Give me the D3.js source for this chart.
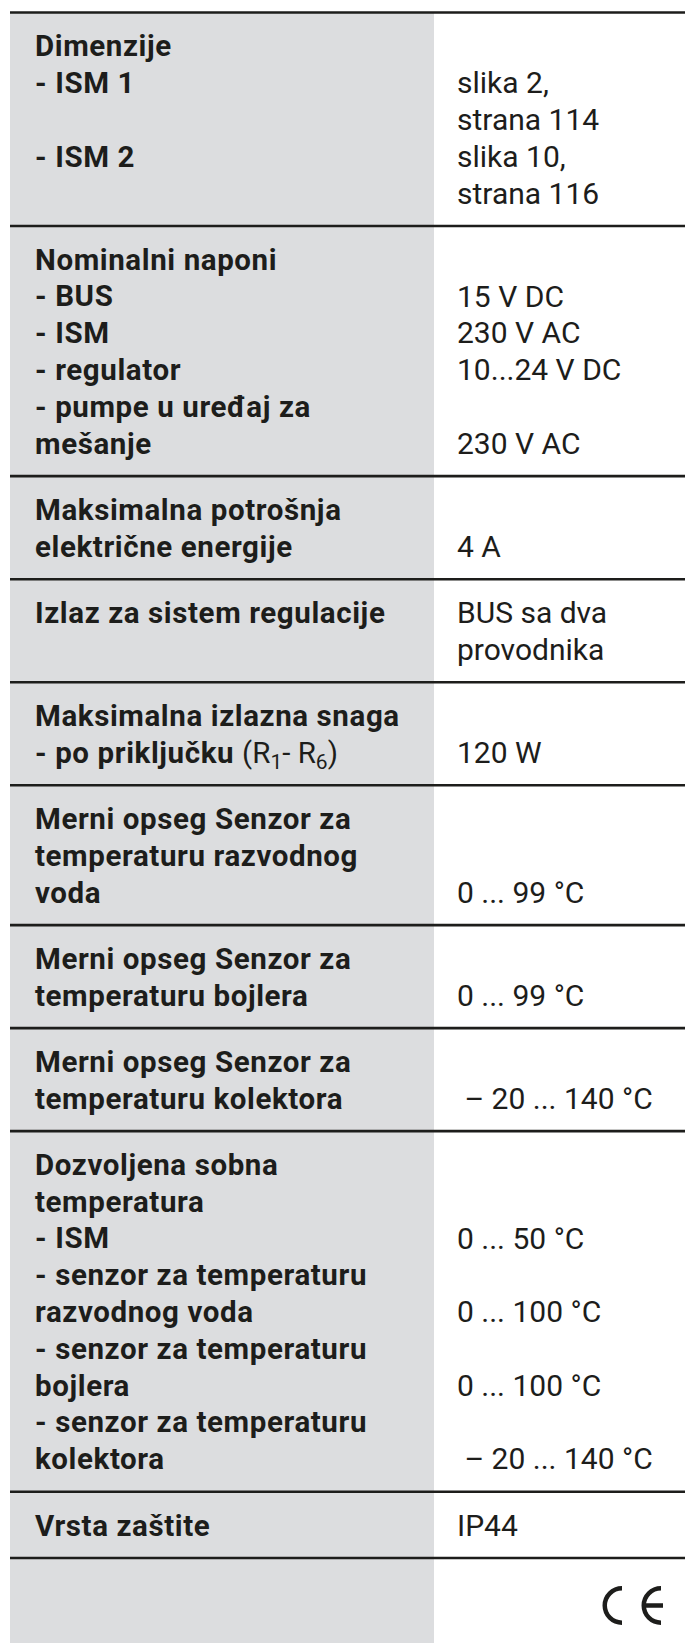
<!DOCTYPE html>
<html>
<head>
<meta charset="utf-8">
<script src="https://cdn.jsdelivr.net/npm/d3@7"></script>
<style>
  body { margin: 0; background: #fff; }
  text { white-space: pre; }
</style>
</head>
<body>
<div id="chart-area"></div>
<script>
// left column (bold) lines per section
let leftLines = [
  ["Dimenzije", "- ISM 1", "", "- ISM 2", ""],
  ["Nominalni naponi", "- BUS", "- ISM", "- regulator", "- pumpe u uređaj za", "mešanje"],
  ["Maksimalna potrošnja", "električne energije"],
  ["Izlaz za sistem regulacije", ""],
  ["Maksimalna izlazna snaga", "- po priključku"],
  ["Merni opseg Senzor za", "temperaturu razvodnog", "voda"],
  ["Merni opseg Senzor za", "temperaturu bojlera"],
  ["Merni opseg Senzor za", "temperaturu kolektora"],
  ["Dozvoljena sobna", "temperatura", "- ISM", "- senzor za temperaturu", "razvodnog voda",
   "- senzor za temperaturu", "bojlera", "- senzor za temperaturu", "kolektora"],
  ["Vrsta zaštite"]
];

// right column values, same row index as the left lines
let rightLines = [
  ["", "slika 2,", "strana 114", "slika 10,", "strana 116"],
  ["", "15 V DC", "230 V AC", "10...24 V DC", "", "230 V AC"],
  ["", "4 A"],
  ["BUS sa dva", "provodnika"],
  ["", "120 W"],
  ["", "", "0 ... 99 °C"],
  ["", "0 ... 99 °C"],
  ["", " – 20 ... 140 °C"],
  ["", "", "0 ... 50 °C", "", "0 ... 100 °C", "", "0 ... 100 °C", "", " – 20 ... 140 °C"],
  ["IP44"]
];

// extra part after "- po priključku" : text, subscript
let portLabel = [["(R", "1"], ["- R", "6"], [")", ""]];

let width = 685, height = 1643;
let padUnits = 0.8;          // blank space per section, in line units
let colSplit = 434, leftX = 35, rightX = 457, tableLeft = 10;

// cumulative start of each section in line units
let starts = [];
let acc = 0;
leftLines.forEach(function(d) {
  starts.push(acc);
  acc += d.length + padUnits;
});
let totalUnits = acc;

let y = d3.scaleLinear().domain([0, totalUnits]).range([12.5, 1558]);

let svg = d3.select("#chart-area")
  .append("svg")
  .attr("width", width)
  .attr("height", height);

// grey label column
svg.append("rect")
  .attr("x", tableLeft)
  .attr("y", y(0))
  .attr("width", colSplit - tableLeft)
  .attr("height", height - y(0))
  .attr("fill", "#dcdddf");

// one group per section
let sections = svg.selectAll(".section")
  .data(leftLines.map(function(d, i) { return {left: d, right: rightLines[i], start: starts[i]}; }))
  .enter()
  .append("g")
  .attr("class", "section");

function rowY(d, i) { return y(d.start + padUnits / 2 + i + 0.5); }

sections.each(function(d) {
  let g = d3.select(this);
  g.selectAll(".left")
    .data(d.left)
    .enter()
    .append("text")
    .attr("class", "left")
    .attr("x", leftX)
    .attr("y", function(t, i) { return rowY(d, i); })
    .attr("dy", "0.36em")
    .style("font-family", "Roboto, sans-serif")
    .style("font-weight", "bold")
    .style("font-size", "29.5px")
    .style("letter-spacing", "0.6px")
    .attr("fill", "#1d1d1b")
    .text(function(t) { return t; });

  g.selectAll(".right")
    .data(d.right)
    .enter()
    .append("text")
    .attr("class", "right")
    .attr("x", rightX)
    .attr("y", function(t, i) { return rowY(d, i); })
    .attr("dy", "0.36em")
    .style("font-family", "Roboto, sans-serif")
    .style("font-size", "30px")
    .attr("fill", "#1d1d1b")
    .text(function(t) { return t; });
});

// (R1- R6) in regular weight with subscripts
let portText = svg.selectAll("text.left").filter(function(t) { return t == "- po priključku"; });
portText.each(function() {
  let t = d3.select(this);
  t.append("tspan").text(" ");
  let shift = 0;
  portLabel.forEach(function(p) {
    t.append("tspan")
      .style("font-weight", "normal")
      .style("letter-spacing", "0px")
      .attr("dy", -shift)
      .text(p[0]);
    shift = 0;
    if (p[1]) {
      t.append("tspan")
        .style("font-weight", "normal")
        .style("letter-spacing", "0px")
        .style("font-size", "21px")
        .attr("dy", 6)
        .text(p[1]);
      shift = 6;
    }
  });
});

// horizontal rules
let rules = [0].concat(leftLines.map(function(d, i) { return starts[i] + d.length + padUnits; }));
svg.selectAll(".rule")
  .data(rules)
  .enter()
  .append("line")
  .attr("class", "rule")
  .attr("x1", tableLeft)
  .attr("x2", width)
  .attr("y1", function(d) { return y(d); })
  .attr("y2", function(d) { return y(d); })
  .attr("stroke", "#1d1d1b")
  .attr("stroke-width", 2.6);

// CE mark
let ceY = (y(totalUnits) + height) / 2 + 5;
let ceR = 19.5, ceStroke = 4.5;
let arc = d3.arc()
  .innerRadius(ceR - ceStroke)
  .outerRadius(ceR)
  .startAngle(Math.PI)
  .endAngle(2 * Math.PI);
let ce = svg.append("g").attr("class", "ce").attr("fill", "#1d1d1b");
ce.append("path").attr("d", arc).attr("transform", "translate(" + 622 + "," + ceY + ")");
ce.append("path").attr("d", arc).attr("transform", "translate(" + 661 + "," + ceY + ")");
ce.append("rect")
  .attr("x", 646)
  .attr("y", ceY - ceStroke / 2)
  .attr("width", 17)
  .attr("height", ceStroke);
</script>
</body>
</html>
